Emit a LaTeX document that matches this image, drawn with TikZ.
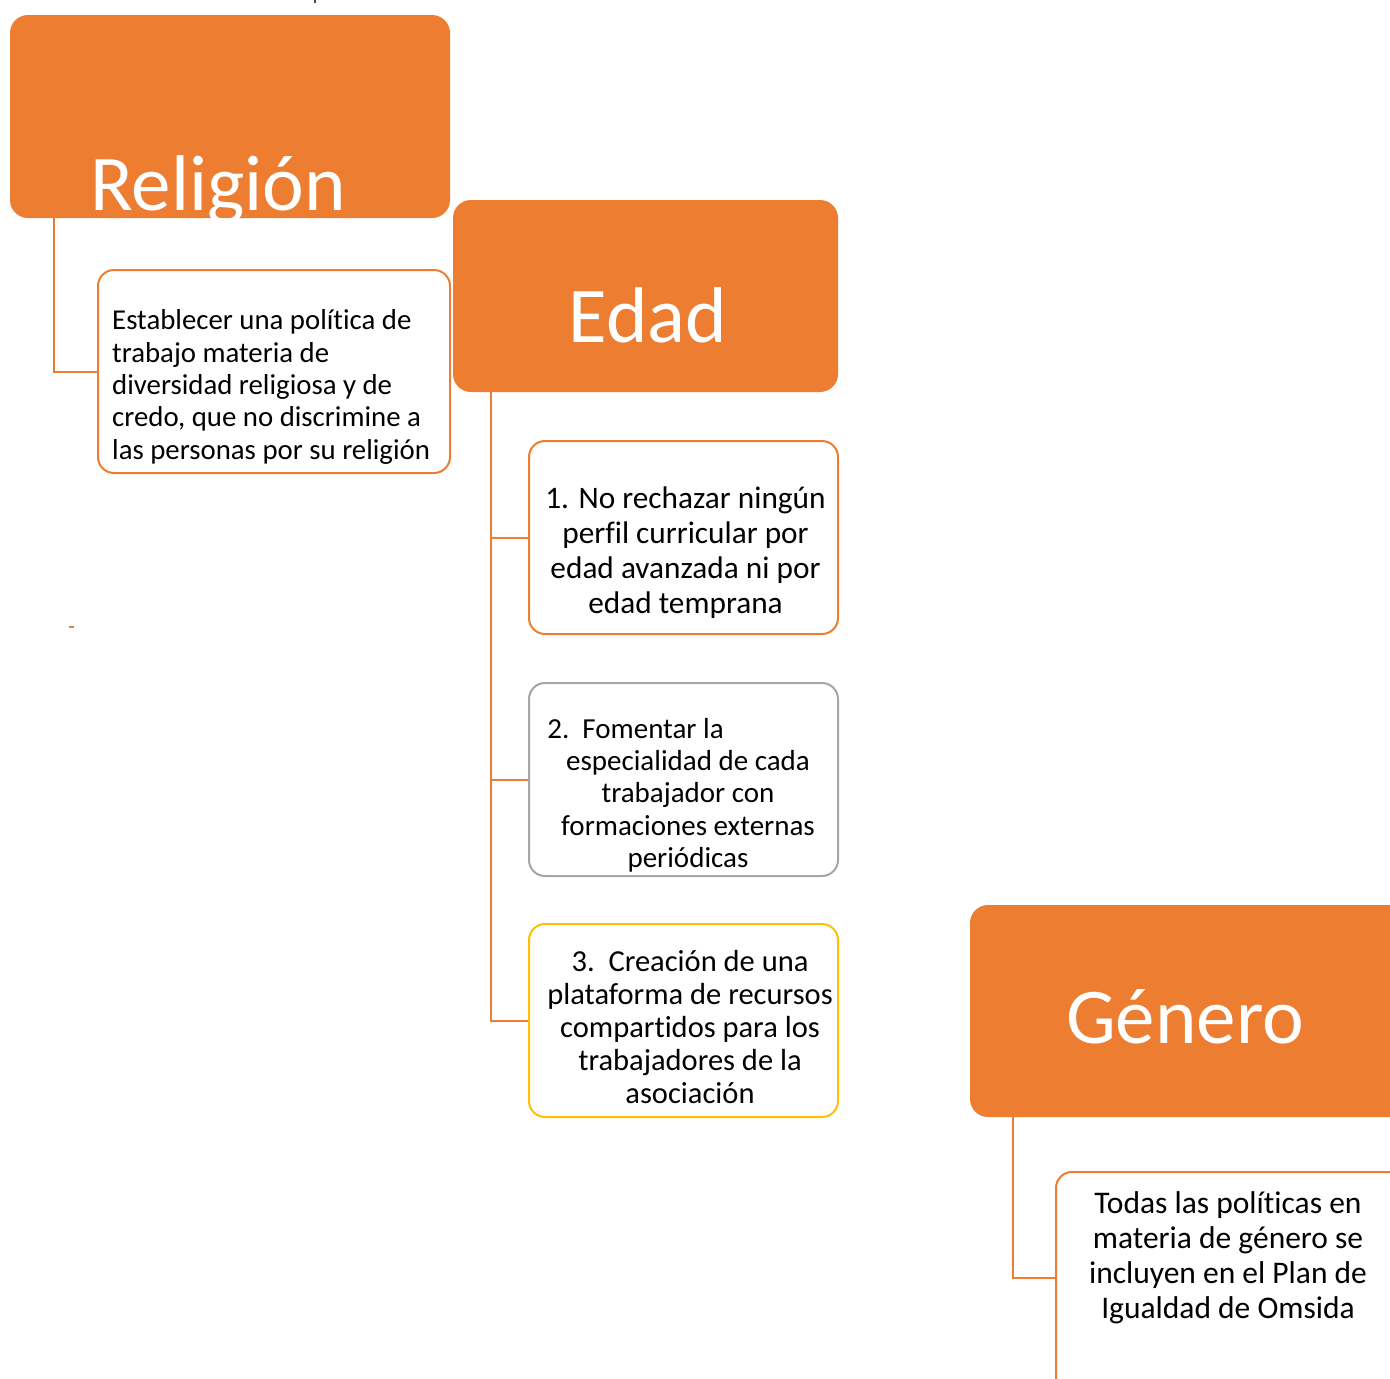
\documentclass[tikz,border=0pt]{standalone}
\usepackage{fontspec}
\setmainfont{Carlito}[Ligatures={NoCommon}]
\definecolor{acc}{HTML}{ED7D31}
\definecolor{accgray}{HTML}{A5A5A5}
\definecolor{accyel}{HTML}{FFC000}
\begin{document}
\begin{tikzpicture}[x=1pt,y=-1pt,
  head/.style={fill=acc, draw=none, rounded corners=18pt, inner sep=0pt},
  leaf/.style={fill=white, draw=acc, line width=2pt, rounded corners=16pt, inner sep=0pt},
  headtext/.style={text=white, inner sep=0pt, font=\fontsize{79}{95}\selectfont},
  leaftext/.style={text=black, inner sep=0pt, align=center},
  conn/.style={draw=acc, line width=2pt}]
\useasboundingbox (0,0) rectangle (1390,1379);
\clip (0,0) rectangle (1390,1379);

% Religion
\node[head, minimum width=440pt, minimum height=203pt] (rel) at (230,116.5) {};
\node[headtext, anchor=base] (relt) at (218,210) {Religión};
\node[leaf, minimum width=352pt, minimum height=203pt] (rc) at (274,371.5) {};
\node[leaftext, align=left, anchor=west, font=\fontsize{28.8}{32.4}\selectfont] (rct) at (112,387)
  {Establecer una política de\\trabajo materia de\\diversidad religiosa y de\\credo, que no discrimine a\\las personas por su religión};
\coordinate (rd) at ([xshift=44pt]rel.south west);
\draw[conn] (rd) |- (rc.west);

% Edad
\node[head, minimum width=385pt, minimum height=192pt] (edad) at (645.5,296) {};
\node[headtext, anchor=base] (edadt) at (648,342) {Edad};
\node[leaf, minimum width=309pt, minimum height=193pt] (b1) at (683.5,537.5) {};
\node[leaf, draw=accgray, minimum width=309pt, minimum height=193pt] (b2) at (683.5,779.5) {};
\node[leaf, draw=accyel, minimum width=309pt, minimum height=193pt] (b3) at (683.5,1020.5) {};
\node[leaftext, font=\fontsize{31.3}{35}\selectfont] (b1t) at (685.5,553)
  {1. No rechazar ningún\\perfil curricular por\\edad avanzada ni por\\edad temprana};
\node[leaftext, font=\fontsize{29}{32.3}\selectfont] (b2t) at (688,795)
  {2.\ \ Fomentar la\hspace*{105pt}\\especialidad de cada\\trabajador con\\formaciones externas\\periódicas};
\node[leaftext, font=\fontsize{30.5}{33.2}\selectfont] (b3t) at (690,1027)
  {3.\ \ Creación de una\\plataforma de recursos\\compartidos para los\\trabajadores de la\\asociación};
\coordinate (ed) at ([xshift=38pt]edad.south west);
\draw[conn] (ed) |- (b3.west);
\draw[conn] (b1.west) -- (b1.west -| ed);
\draw[conn] (b2.west) -- (b2.west -| ed);

% Genero
\node[head, minimum width=450pt, minimum height=212pt] (gen) at (1195,1011) {};
\node[headtext, anchor=base] (gent) at (1185,1043) {Género};
\node[leaf, minimum width=364pt, minimum height=248pt] (gc) at (1238,1296) {};
\node[leaftext, font=\fontsize{31.5}{35}\selectfont] (gct) at (1228,1258)
  {Todas las políticas en\\materia de género se\\incluyen en el Plan de\\Igualdad de Omsida};
\coordinate (gd) at ([xshift=43pt]gen.south west);
\draw[conn] (gd) |- (gc.west |- 0,1278);

% small marks
\draw[acc, line width=2pt] (69,627) -- (74,627);
\draw[black!70, line width=1.5pt] (315,0) -- (315,3);
\end{tikzpicture}
\end{document}
